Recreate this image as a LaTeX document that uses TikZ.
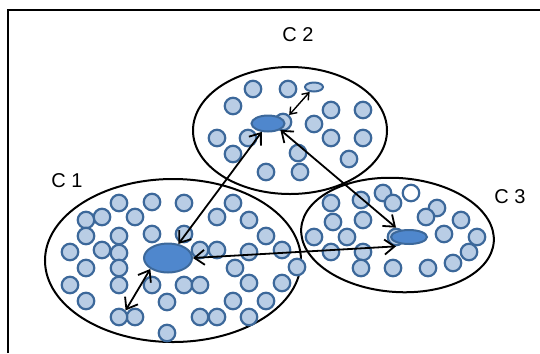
\documentclass[tikz,border=0pt]{standalone}
\usepackage{fontspec}
\setmainfont{Liberation Sans}
\usetikzlibrary{shapes.geometric,arrows.meta}
\definecolor{dotfill}{RGB}{185,205,229}
\definecolor{dotline}{RGB}{60,104,154}
\definecolor{corefill}{RGB}{79,135,205}
\begin{document}
\begin{tikzpicture}[x=1bp,y=-1bp,
  cluster/.style={ellipse,draw=black,line width=2bp,inner sep=0pt},
  dot/.style={circle,draw=dotline,fill=dotfill,line width=2.2bp,minimum size=16.5bp,inner sep=0pt},
  core/.style={ellipse,draw=dotline,fill=corefill,line width=2bp,inner sep=0pt},
  link/.style={line width=1.8bp,{Straight Barb[length=10bp,width=15bp]}-{Straight Barb[length=10bp,width=15bp]}},
  smalllink/.style={line width=1.4bp,{Straight Barb[length=6bp,width=9bp]}-{Straight Barb[length=6bp,width=9bp]}},
  lbl/.style={font=\fontsize{20bp}{24bp}\selectfont,inner sep=0pt}]
\useasboundingbox (0,0) rectangle (540,353);
\draw[line width=2bp] (8,353) -- (8,10) -- (540,10);

% clusters
\node[cluster,minimum width=256bp,minimum height=163bp] (k1) at (173,260.5) {};
\node[cluster,minimum width=194bp,minimum height=127bp] (k2) at (290,130.5) {};
\node[cluster,minimum width=193bp,minimum height=114bp,rotate=-4] (k3) at (397.5,235) {};

% cluster 1 points
\foreach \x/\y [count=\i] in {119/203,152/202,184/203,233/203,
  86/220,102/217,135/217,217/217,249/220,
  86/236,119/236,152/234,184/234,266/236,
  70/252,102/250,119/253,200/250,217/250,249/252,282/250,
  86/268,119/268,235/268,297/267,
  70/285,119/285,152/285,184/285,200/285,249/283,282/283,
  86/301,167/302,233/301,266/301,
  135/317,200/317,217/317,249/317,
  167/333}
  \node[dot] (a\i) at (\x,\y) {};
\node[dot] (p1) at (119,317) {};

% cluster 2 points
\foreach \x/\y [count=\i] in {253/89,288/89,233/106,331/110,363/110,314/124,
  217/138,248/138,331/138,363/138,233/154,298/153,349/159,266/172,300/172}
  \node[dot] (b\i) at (\x,\y) {};
\node[ellipse,draw=dotline,fill=dotfill,line width=2bp,inner sep=0pt,minimum width=18bp,minimum height=9bp] (s2) at (314,87) {};
\node[dot] (h2) at (283,122) {};

% cluster 3 points
\foreach \x/\y [count=\i] in {383/193,393/203,331/203,361/200,437/208,426/217,
  333/222,363/220,461/220,314/237,347/237,444/234,477/237,469/252,
  331/252,363/252,453/263,361/268,393/268,428/268}
  \node[dot] (c\i) at (\x,\y) {};
\node[dot,fill=white] (w3) at (411,193) {};
\node[dot] (h3) at (396,237) {};

% cores
\node[core,minimum width=48bp,minimum height=29bp] (m1) at (168,258) {};
\node[core,minimum width=33bp,minimum height=16bp] (m2) at (268,123.5) {};
\node[core,minimum width=36bp,minimum height=14bp] (m3) at (409,237) {};

% links
\draw[link] (m1) -- (m2);
\draw[link] (m1.east) -- (h3.south);
\draw[link] (m2.south east) -- (h3.north);
\draw[link] (m1.south west) -- (p1.north east);
\draw[smalllink] (h2) -- (s2);

% labels
\node[lbl] (l1) at (67,181) {C 1};
\node[lbl] (l2) at (298,35) {C 2};
\node[lbl] (l3) at (510,197) {C 3};
\end{tikzpicture}
\end{document}
